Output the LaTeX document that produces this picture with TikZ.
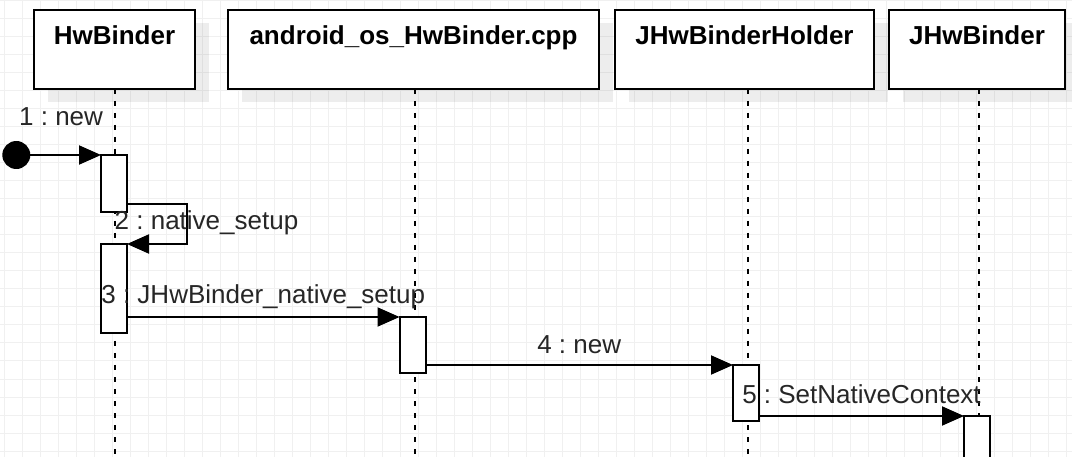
\documentclass[tikz,border=0pt]{standalone}
\usepackage{fontspec}
\setmainfont{Liberation Sans}
\frenchspacing
\usetikzlibrary{arrows.meta,shadows,calc}
\begin{document}
\begin{tikzpicture}[x=1pt,y=-1pt,
  every node/.style={inner sep=0pt, outer sep=0pt},
  headbox/.style={draw=black, line width=2pt, fill=white, rectangle, minimum height=79pt,
    drop shadow={shadow xshift=14pt, shadow yshift=-13pt, fill=black, opacity=0.07}},
  title/.style={font=\fontsize{26pt}{30pt}\selectfont\bfseries, text=black, anchor=base},
  lab/.style={font=\fontsize{26pt}{30pt}\selectfont, text=black!85},
  act/.style={draw=black, line width=2pt, fill=white, rectangle, minimum width=26pt},
  lifeline/.style={draw=black, line width=2pt, dash pattern=on 5pt off 7pt},
  msg/.style={draw=black, line width=2pt, -{Triangle[length=22pt,width=19pt]}},
  gridline/.style={draw=black!6, line width=1pt}
]
\useasboundingbox (0,0) rectangle (1072,457);
\clip (0,0) rectangle (1072,457);
\fill[white] (0,0) rectangle (1072,457);
% grid
\foreach \gx in {4,22,...,1066} \draw[gridline] (\gx,0) -- (\gx,457);
\foreach \gy in {1,19,...,451} \draw[gridline] (0,\gy) -- (1072,\gy);
% header boxes
\node[headbox, minimum width=161pt] (hw) at (114.5,49.5) {};
\node[headbox, minimum width=371pt] (aos) at (413.5,49.5) {};
\node[headbox, minimum width=259pt] (jhh) at (744.5,49.5) {};
\node[headbox, minimum width=176pt] (jhb) at (977,49.5) {};
\node[title] (hwt) at ([yshift=-35pt]hw.north) {HwBinder};
\node[title] (aost) at ([yshift=-35pt]aos.north) {android\_os\_HwBinder.cpp};
\node[title] (jhht) at ([yshift=-35pt]jhh.north) {JHwBinderHolder};
\node[title] (jhbt) at ([yshift=-35pt]jhb.north) {JHwBinder};
% lifelines
\coordinate (hwend) at (115,457);
\coordinate (aosend) at (415,457);
\coordinate (jhhend) at (748,457);
\coordinate (jhbend) at (979,457);
\draw[lifeline] (hw.south -| hwend) -- (hwend);
\draw[lifeline] (aos.south -| aosend) -- (aosend);
\draw[lifeline] (jhh.south -| jhhend) -- (jhhend);
\draw[lifeline] (jhb.south -| jhbend) -- (jhbend);
% activations
\node[act, minimum height=57pt] (a1) at (114,183.5) {};
\node[act, minimum height=89pt] (a2) at (114,288.5) {};
\node[act, minimum height=56pt] (a3) at (412.5,345) {};
\node[act, minimum height=56pt] (a4) at (746,393) {};
\node[act, minimum height=70pt] (a5) at (977,451) {};
% start
\node[circle, fill=black, minimum size=28pt] (st) at (16.3,155) {};
% messages
\draw[msg] (st) -- (a1.north west);
\node[lab, anchor=base east] (l1) at (103,126) {1 : new};
\draw[msg] ([yshift=8pt]a1.south east) -- ++(60,0) |- (a2.north east);
\node[lab, anchor=base] (l2) at (206.5,230) {2 : native\_setup};
\draw[msg] (a2.east |- a3.north west) -- (a3.north west)
  node[lab, midway, anchor=base, yshift=13pt] (l3) {3 : JHwBinder\_native\_setup};
\draw[msg] (a3.east |- a4.north west) -- (a4.north west)
  node[lab, midway, anchor=base, yshift=12pt] (l4) {4 : new};
\draw[msg] (a4.east |- a5.north west) -- (a5.north west)
  node[lab, midway, anchor=base, yshift=13pt] (l5) {5 : SetNativeContext};
\end{tikzpicture}
\end{document}
